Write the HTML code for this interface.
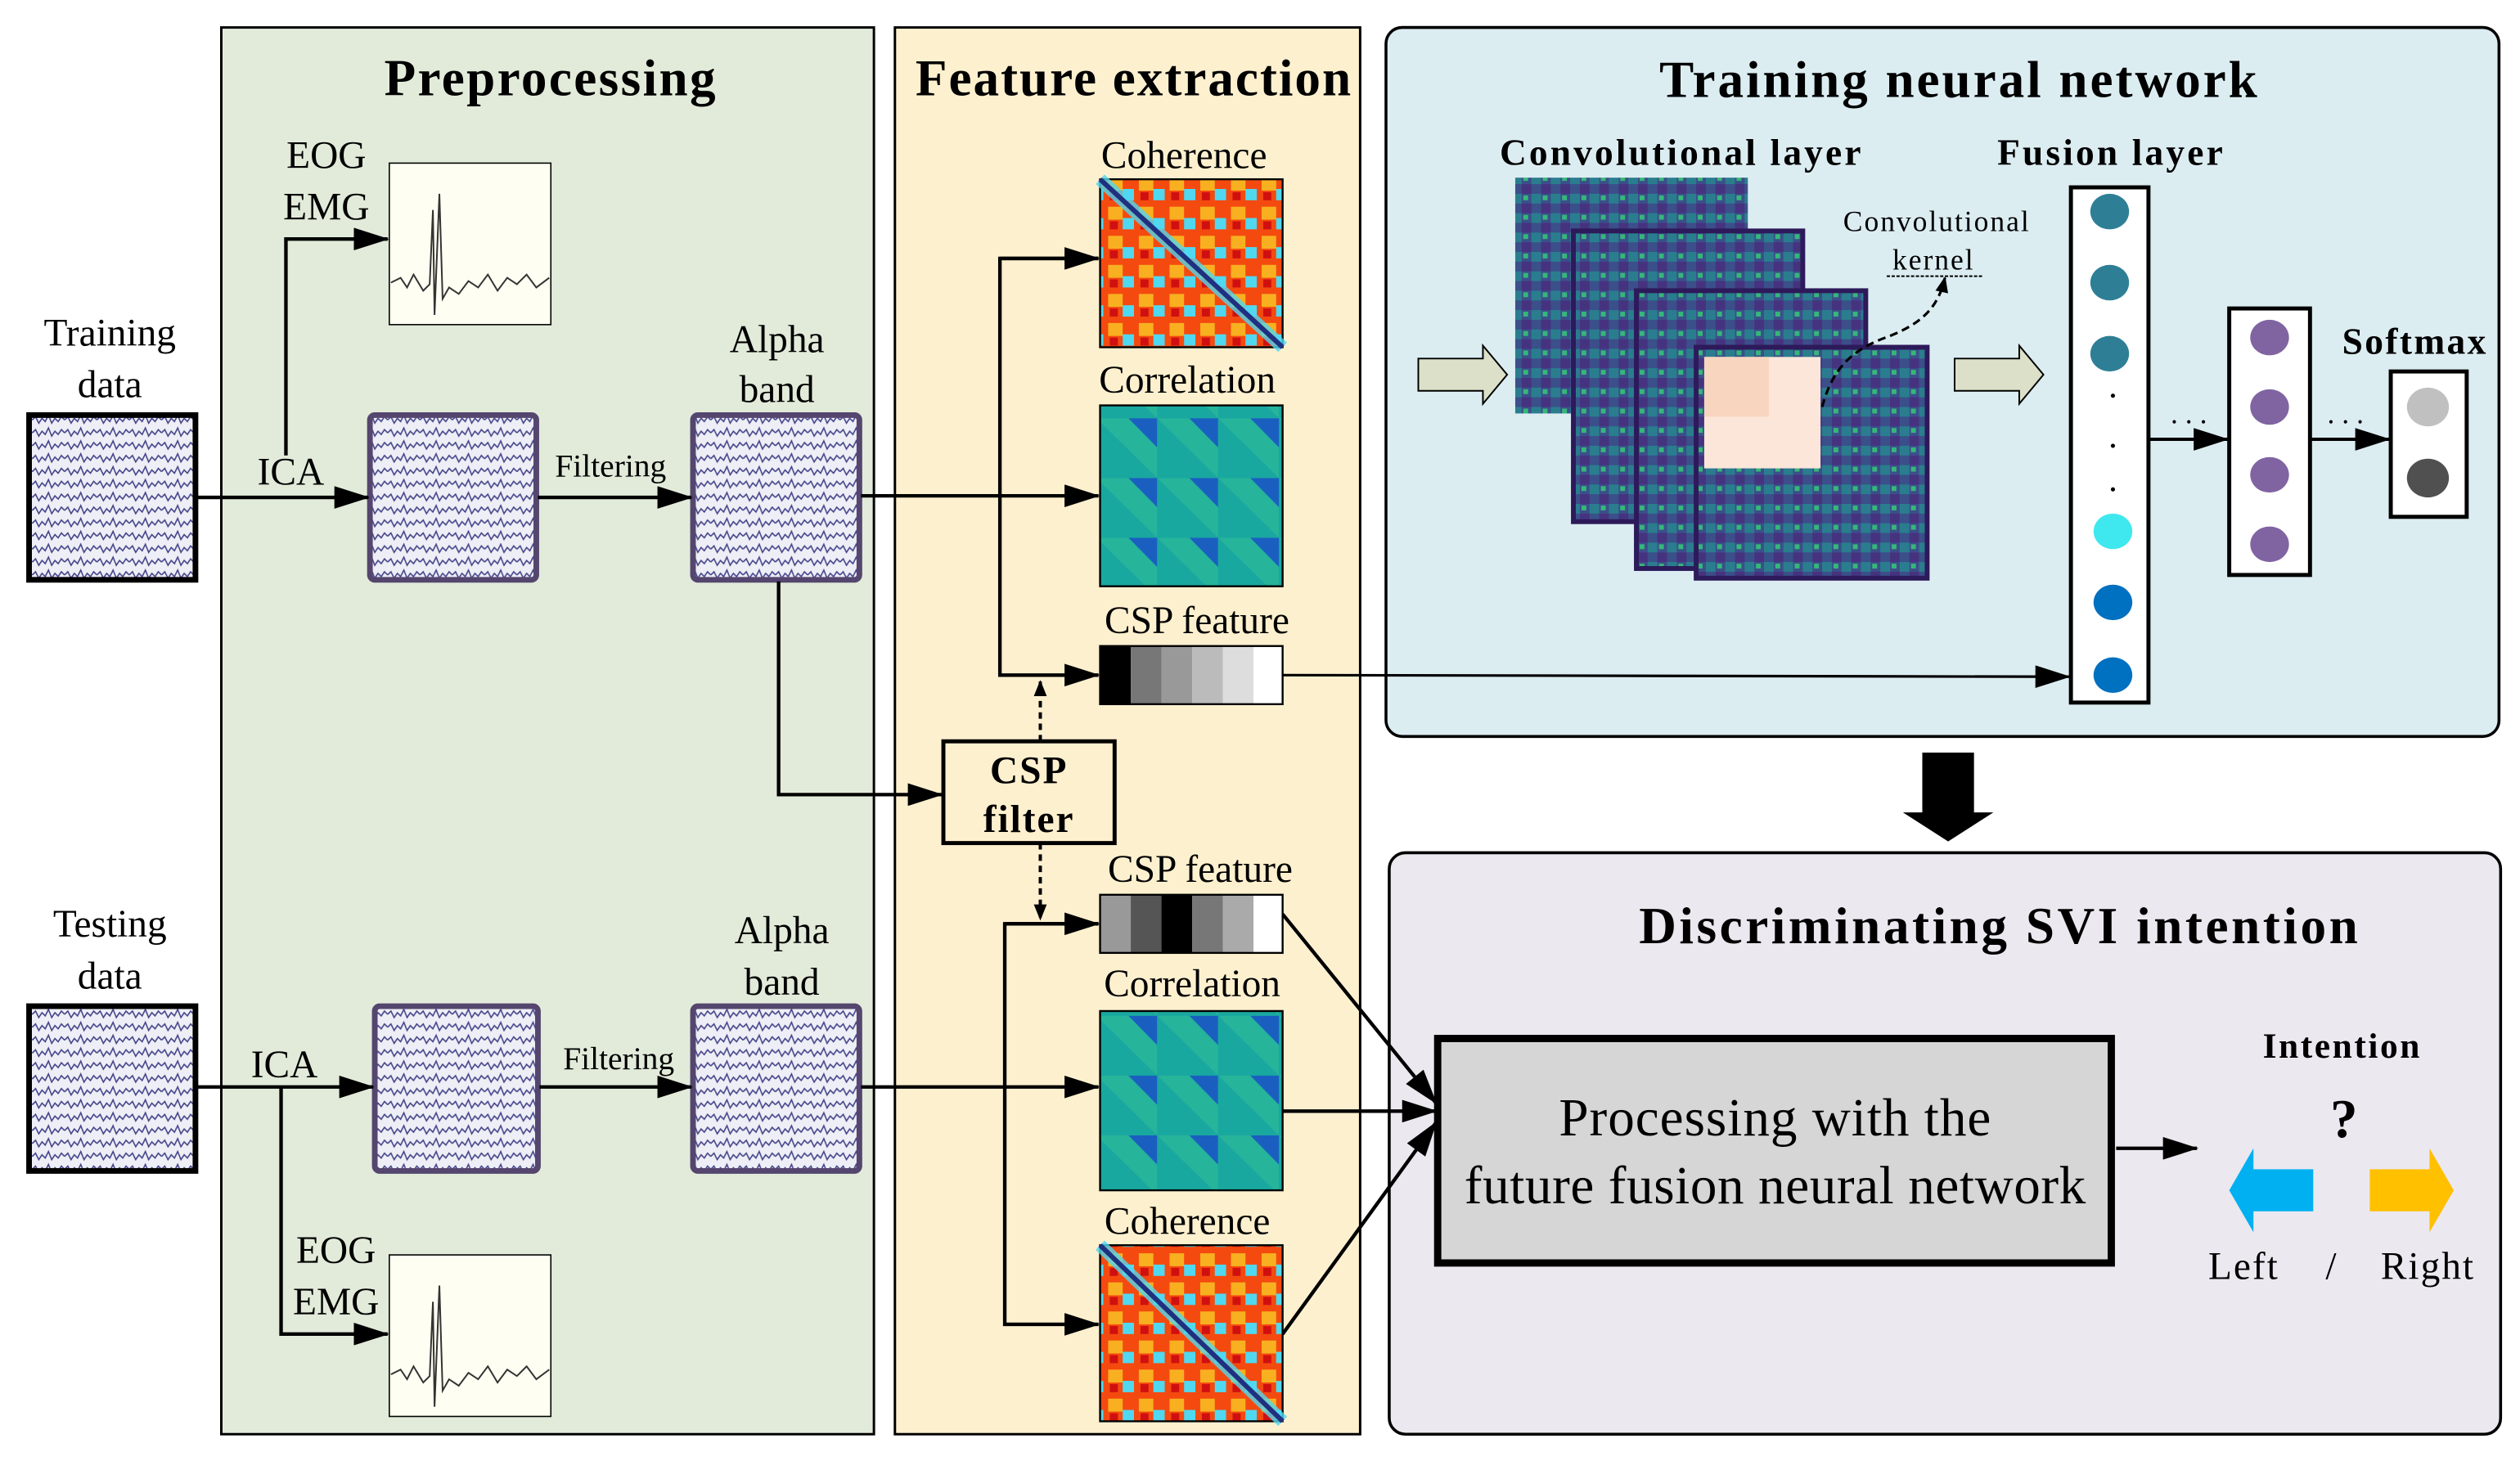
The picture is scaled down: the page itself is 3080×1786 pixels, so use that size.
<!DOCTYPE html>
<html><head><meta charset="utf-8"><style>
html,body{margin:0;padding:0;background:#fff}
svg{display:block}
text{font-family:"Liberation Serif",serif;fill:#000}
.b{font-weight:bold}
</style></head><body>
<svg width="3080" height="1786" viewBox="0 0 1560 904.6" preserveAspectRatio="none" xmlns="http://www.w3.org/2000/svg">
<defs>
<marker id="ah" markerWidth="10" markerHeight="8" refX="9" refY="4" orient="auto" markerUnits="userSpaceOnUse" viewBox="0 0 10 8"><path d="M0,0L10,4L0,8z" fill="#000"/></marker>
<marker id="ahL" markerWidth="22" markerHeight="14" refX="21" refY="7" orient="auto" markerUnits="userSpaceOnUse" viewBox="0 0 22 14"><path d="M0,0L22,7L0,14z" fill="#000"/></marker>
<pattern id="eeg" width="20" height="8" patternUnits="userSpaceOnUse">
<rect width="20" height="8" fill="#eeeef6"/>
<polyline points="0,4 2,2 4,6 6,3 8,5 10,1 12,6 14,3 16,5 18,2 20,4" fill="none" stroke="#44448a" stroke-width="0.8"/>
</pattern>
<pattern id="cor" width="37.7" height="37" patternUnits="userSpaceOnUse">
<rect width="37.7" height="37" fill="#1a5fc0"/>
<path d="M0,0L37.7,37L0,37z" fill="#19a8a0"/>
<path d="M0,0L20,0L37.7,18L37.7,37z" fill="#2bd98a" opacity="0.7"/>
</pattern>
<pattern id="coh" width="19" height="18" patternUnits="userSpaceOnUse">
<rect width="19" height="18" fill="#f44a10"/>
<rect x="2" y="2" width="9" height="8" fill="#f8b020"/>
<rect x="11" y="9" width="7" height="7" fill="#50d8f0"/>
<rect x="3" y="11" width="5" height="5" fill="#d01010"/>
</pattern>
<pattern id="vir" width="12" height="12" patternUnits="userSpaceOnUse">
<rect width="12" height="12" fill="#3b4f8a"/>
<rect x="0" y="0" width="6" height="6" fill="#2a7d8e"/>
<rect x="6" y="6" width="6" height="6" fill="#46337f"/>
<rect x="7" y="1" width="3" height="3" fill="#35b779"/>
</pattern>
</defs>

<rect x="137" y="17" width="404" height="871" fill="#e2ebda" stroke="#000" stroke-width="1.5"/>
<rect x="554" y="17" width="288" height="871" fill="#fdf0cf" stroke="#000" stroke-width="1.5"/>
<rect x="858" y="17" width="689" height="439" rx="10" fill="#dcedf2" stroke="#000" stroke-width="1.8"/>
<rect x="860" y="528" width="688" height="360" rx="10" fill="#ebe8f0" stroke="#000" stroke-width="1.8"/>

<text x="341" y="59" font-size="32" class="b" text-anchor="middle" letter-spacing="1.2">Preprocessing</text>
<text x="702" y="59" font-size="32" class="b" text-anchor="middle" letter-spacing="1">Feature extraction</text>
<text x="1213" y="60" font-size="32" class="b" text-anchor="middle" letter-spacing="1.5">Training neural network</text>
<text x="1238" y="584" font-size="32" class="b" text-anchor="middle" letter-spacing="1.8">Discriminating  SVI intention</text>

<text x="68" y="214" font-size="24" text-anchor="middle">Training</text>
<text x="68" y="246" font-size="24" text-anchor="middle">data</text>
<text x="68" y="580" font-size="24" text-anchor="middle">Testing</text>
<text x="68" y="612" font-size="24" text-anchor="middle">data</text>

<rect x="18" y="257" width="103" height="102" fill="url(#eeg)" stroke="#000" stroke-width="3.5"/>
<rect x="18" y="623" width="103" height="102" fill="url(#eeg)" stroke="#000" stroke-width="3.5"/>
<rect x="229" y="257" width="103" height="102" rx="3" fill="url(#eeg)" stroke="#54466e" stroke-width="3.5"/>
<rect x="429" y="257" width="103" height="102" rx="3" fill="url(#eeg)" stroke="#54466e" stroke-width="3.5"/>
<rect x="232" y="623" width="101" height="102" rx="3" fill="url(#eeg)" stroke="#54466e" stroke-width="3.5"/>
<rect x="429" y="623" width="103" height="102" rx="3" fill="url(#eeg)" stroke="#54466e" stroke-width="3.5"/>

<g>
<rect x="241" y="101" width="100" height="100" fill="#fefef2" stroke="#000" stroke-width="0.8"/>
<polyline points="242,175 248,172 252,178 256,170 262,180 266,176 268,130 269,195 272,120 274,185 278,178 284,182 290,174 296,178 302,170 308,180 314,172 320,176 326,170 332,178 340,172" fill="none" stroke="#333" stroke-width="1"/>
<rect x="241" y="777" width="100" height="100" fill="#fefef2" stroke="#000" stroke-width="0.8"/>
<polyline points="242,851 248,848 252,854 256,846 262,856 266,852 268,806 269,871 272,796 274,861 278,854 284,858 290,850 296,854 302,846 308,856 314,848 320,852 326,846 332,854 340,848" fill="none" stroke="#333" stroke-width="1"/>
</g>
<text x="202" y="104" font-size="24" text-anchor="middle">EOG</text>
<text x="202" y="136" font-size="24" text-anchor="middle">EMG</text>
<text x="208" y="782" font-size="24" text-anchor="middle">EOG</text>
<text x="208" y="814" font-size="24" text-anchor="middle">EMG</text>

<text x="180" y="300" font-size="24" text-anchor="middle">ICA</text>
<text x="176" y="667" font-size="24" text-anchor="middle">ICA</text>
<text x="378" y="295" font-size="20" text-anchor="middle">Filtering</text>
<text x="383" y="662" font-size="20" text-anchor="middle">Filtering</text>
<text x="481" y="218" font-size="24" text-anchor="middle">Alpha</text>
<text x="481" y="249" font-size="24" text-anchor="middle">band</text>
<text x="484" y="584" font-size="24" text-anchor="middle">Alpha</text>
<text x="484" y="616" font-size="24" text-anchor="middle">band</text>

<g fill="none" stroke="#000" stroke-width="2.2">
<line x1="122" y1="308" x2="228" y2="308" marker-end="url(#ahL)"/>
<polyline points="177,282 177,148 240,148" marker-end="url(#ahL)"/>
<line x1="333" y1="308" x2="428" y2="308" marker-end="url(#ahL)"/>
<line x1="533" y1="307" x2="680" y2="307" marker-end="url(#ahL)"/>
<polyline points="680,160 619,160 619,418 680,418" marker-end="url(#ahL)"/>
<line x1="619" y1="160" x2="680" y2="160" marker-end="url(#ahL)"/>
<polyline points="482,360 482,492 583,492" marker-end="url(#ahL)"/>
<line x1="122" y1="673" x2="231" y2="673" marker-end="url(#ahL)"/>
<polyline points="174,673 174,826 240,826" marker-end="url(#ahL)"/>
<line x1="334" y1="673" x2="428" y2="673" marker-end="url(#ahL)"/>
<line x1="533" y1="673" x2="680" y2="673" marker-end="url(#ahL)"/>
<polyline points="680,572 622,572 622,820 680,820" marker-end="url(#ahL)"/>
<line x1="622" y1="572" x2="680" y2="572" marker-end="url(#ahL)"/>
<line x1="794" y1="418" x2="1281" y2="419" stroke-width="1.6" marker-end="url(#ahL)"/>
<line x1="794" y1="566" x2="889" y2="683" marker-end="url(#ahL)"/>
<line x1="794" y1="688" x2="889" y2="688" marker-end="url(#ahL)"/>
<line x1="794" y1="826" x2="889" y2="695" marker-end="url(#ahL)"/>
<line x1="1310" y1="711" x2="1360" y2="711" marker-end="url(#ahL)"/>
</g>
<g fill="none" stroke="#000" stroke-width="2" stroke-dasharray="4,3">
<line x1="644" y1="459" x2="644" y2="422" marker-end="url(#ah)"/>
<line x1="644" y1="522" x2="644" y2="569" marker-end="url(#ah)"/>
</g>

<rect x="584" y="459" width="106" height="63" fill="#fdf0cf" stroke="#000" stroke-width="2.5"/>
<text x="637" y="485" font-size="24" class="b" text-anchor="middle" letter-spacing="1">CSP</text>
<text x="637" y="515" font-size="24" class="b" text-anchor="middle" letter-spacing="1">filter</text>

<text x="733" y="104" font-size="24" text-anchor="middle">Coherence</text>
<rect x="681" y="111" width="113" height="104" fill="url(#coh)" stroke="#000" stroke-width="1.2"/>
<line x1="681" y1="111" x2="794" y2="215" stroke="#50d8f0" stroke-width="8" opacity="0.8"/>
<line x1="681" y1="111" x2="794" y2="215" stroke="#203080" stroke-width="3"/>
<text x="735" y="243" font-size="24" text-anchor="middle">Correlation</text>
<rect x="681" y="251" width="113" height="112" fill="url(#cor)" stroke="#000" stroke-width="1.2"/>
<text x="741" y="392" font-size="24" text-anchor="middle">CSP feature</text>
<g stroke="none">
<rect x="681" y="400" width="19" height="36" fill="#000"/><rect x="700" y="400" width="19" height="36" fill="#777"/><rect x="719" y="400" width="19" height="36" fill="#999"/><rect x="738" y="400" width="19" height="36" fill="#bbb"/><rect x="757" y="400" width="19" height="36" fill="#ddd"/><rect x="776" y="400" width="18" height="36" fill="#fff"/>
<rect x="681" y="554" width="19" height="36" fill="#999"/><rect x="700" y="554" width="19" height="36" fill="#555"/><rect x="719" y="554" width="19" height="36" fill="#000"/><rect x="738" y="554" width="19" height="36" fill="#777"/><rect x="757" y="554" width="19" height="36" fill="#aaa"/><rect x="776" y="554" width="18" height="36" fill="#fff"/>
</g>
<rect x="681" y="400" width="113" height="36" fill="none" stroke="#000" stroke-width="1.2"/>
<rect x="681" y="554" width="113" height="36" fill="none" stroke="#000" stroke-width="1.2"/>
<text x="743" y="546" font-size="24" text-anchor="middle">CSP feature</text>
<text x="738" y="617" font-size="24" text-anchor="middle">Correlation</text>
<rect x="681" y="626" width="113" height="111" fill="url(#cor)" stroke="#000" stroke-width="1.2"/>
<text x="735" y="764" font-size="24" text-anchor="middle">Coherence</text>
<rect x="681" y="771" width="113" height="109" fill="url(#coh)" stroke="#000" stroke-width="1.2"/>
<line x1="681" y1="771" x2="794" y2="880" stroke="#50d8f0" stroke-width="8" opacity="0.8"/>
<line x1="681" y1="771" x2="794" y2="880" stroke="#203080" stroke-width="3"/>

<text x="1041" y="102" font-size="23" class="b" text-anchor="middle" letter-spacing="1.6">Convolutional layer</text>
<text x="1307" y="102" font-size="23" class="b" text-anchor="middle" letter-spacing="1.6">Fusion layer</text>
<rect x="938" y="110" width="144" height="146" fill="url(#vir)"/>
<rect x="974" y="143" width="142" height="180" fill="url(#vir)" stroke="#2d1a5a" stroke-width="3"/>
<rect x="1013" y="180" width="142" height="172" fill="url(#vir)" stroke="#2d1a5a" stroke-width="3"/>
<rect x="1050" y="215" width="143" height="143" fill="url(#vir)" stroke="#2d1a5a" stroke-width="3"/>
<rect x="1055" y="221" width="72" height="69" fill="#fbe6d9"/>
<rect x="1055" y="221" width="40" height="37" fill="#f8d5bf"/>
<path d="M1128,252 C1135,225 1150,215 1170,208 C1190,200 1200,190 1204,172" fill="none" stroke="#000" stroke-width="1.6" stroke-dasharray="5,3" marker-end="url(#ah)"/>
<text x="1199" y="143" font-size="18" text-anchor="middle" letter-spacing="1">Convolutional</text>
<text x="1197" y="167" font-size="18" text-anchor="middle" letter-spacing="1">kernel</text>
<line x1="1168" y1="171" x2="1228" y2="171" stroke="#000" stroke-width="1" stroke-dasharray="2,1"/>
<path d="M878,222 L918,222 L918,214 L933,232 L918,250 L918,242 L878,242z" fill="#dde0c8" stroke="#000" stroke-width="1"/>
<path d="M1210,222 L1250,222 L1250,214 L1265,232 L1250,250 L1250,242 L1210,242z" fill="#dde0c8" stroke="#000" stroke-width="1"/>

<rect x="1282" y="116" width="48" height="319" fill="#fff" stroke="#000" stroke-width="2.5"/>
<g>
<ellipse cx="1306" cy="131" rx="12" ry="11" fill="#2e7f96"/>
<ellipse cx="1306" cy="175" rx="12" ry="11" fill="#2e7f96"/>
<ellipse cx="1306" cy="219" rx="12" ry="11" fill="#2e7f96"/>
<circle cx="1308" cy="245" r="1.3" fill="#000"/><circle cx="1308" cy="276" r="1.3" fill="#000"/><circle cx="1308" cy="303" r="1.3" fill="#000"/>
<ellipse cx="1308" cy="329" rx="12" ry="11" fill="#3fe8ef"/>
<ellipse cx="1308" cy="373" rx="12" ry="11" fill="#0070c0"/>
<ellipse cx="1308" cy="418" rx="12" ry="11" fill="#0070c0"/>
</g>
<line x1="1330" y1="272" x2="1379" y2="272" stroke="#000" stroke-width="2" marker-end="url(#ahL)"/>
<text x="1355" y="262" font-size="18" text-anchor="middle">. . .</text>
<rect x="1380" y="191" width="50" height="165" fill="#fff" stroke="#000" stroke-width="2.5"/>
<g fill="#8064a2">
<ellipse cx="1405" cy="209" rx="12" ry="11"/><ellipse cx="1405" cy="252" rx="12" ry="11"/><ellipse cx="1405" cy="294" rx="12" ry="11"/><ellipse cx="1405" cy="337" rx="12" ry="11"/>
</g>
<line x1="1430" y1="272" x2="1479" y2="272" stroke="#000" stroke-width="2" marker-end="url(#ahL)"/>
<text x="1452" y="262" font-size="18" text-anchor="middle">. . .</text>
<text x="1495" y="219" font-size="23" class="b" text-anchor="middle" letter-spacing="1.2">Softmax</text>
<rect x="1480" y="230" width="47" height="90" fill="#fff" stroke="#000" stroke-width="2.5"/>
<ellipse cx="1503" cy="252" rx="13" ry="12" fill="#c0c0c0"/>
<ellipse cx="1503" cy="296" rx="13" ry="12" fill="#505050"/>

<path d="M1190,466 L1222,466 L1222,503 L1234,503 L1206,521 L1178,503 L1190,503z" fill="#000"/>

<rect x="890" y="643" width="417" height="139" fill="#d6d6d6" stroke="#000" stroke-width="4.5"/>
<text x="1099" y="703" font-size="33" text-anchor="middle" letter-spacing="0.5">Processing with the</text>
<text x="1099" y="745" font-size="33" text-anchor="middle" letter-spacing="0.3">future fusion neural network</text>
<text x="1450" y="655" font-size="22" class="b" text-anchor="middle" letter-spacing="1.3">Intention</text>
<text x="1451" y="704" font-size="34" class="b" text-anchor="middle">?</text>
<path d="M1380,737 L1395,711 L1395,724 L1432,724 L1432,750 L1395,750 L1395,763z" fill="#00b0f0"/>
<path d="M1519,737 L1504,711 L1504,724 L1467,724 L1467,750 L1504,750 L1504,763z" fill="#ffc000"/>
<text x="1389" y="792" font-size="24" text-anchor="middle" letter-spacing="1">Left</text>
<text x="1443" y="792" font-size="24" text-anchor="middle">/</text>
<text x="1503" y="792" font-size="24" text-anchor="middle" letter-spacing="1">Right</text>
</svg>
</body></html>
